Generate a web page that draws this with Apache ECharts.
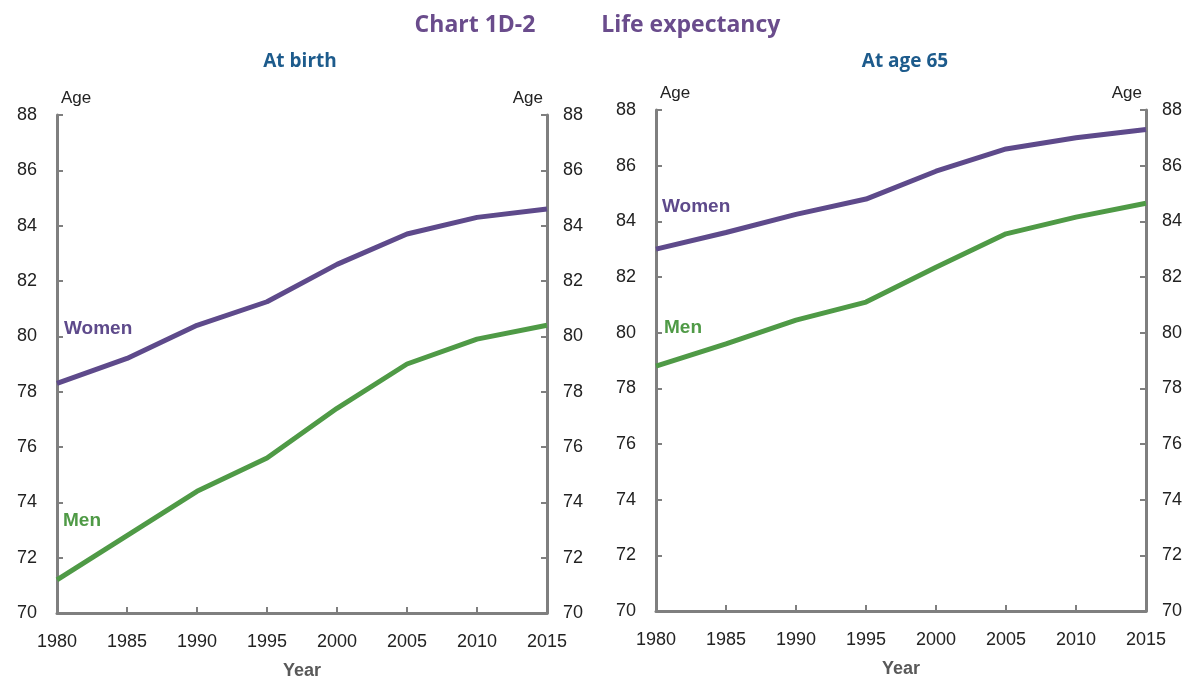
<!DOCTYPE html>
<html>
<head>
<meta charset="utf-8">
<script src="https://cdn.jsdelivr.net/npm/echarts@6/dist/echarts.min.js"></script>
<style>
  html, body { margin: 0; padding: 0; background: #fff; }
  #chart { width: 1195px; height: 679px; }
</style>
</head>
<body>
<div id="chart"></div>
<script>
var years = [1980, 1985, 1990, 1995, 2000, 2005, 2010, 2015]
// at birth
var birthWomen = [78.3, 79.2, 80.4, 81.25, 82.6, 83.7, 84.3, 84.6]
var birthMen = [71.2, 72.8, 74.4, 75.6, 77.4, 79.0, 79.9, 80.4]
// at age 65
var age65Women = [83.0, 83.6, 84.25, 84.8, 85.8, 86.6, 87.0, 87.3]
var age65Men = [78.8, 79.6, 80.45, 81.1, 82.35, 83.55, 84.15, 84.65]

var purple = '#5e4a8b'
var green = '#4f9a46'
var axisGray = '#7f7f7f'
var font = 'Liberation Sans, Arial, sans-serif'

function pairs(vals) {
  return years.map(function (y, i) { return [y, vals[i]] })
}

function xAxisFor(grid) {
  return {
    type: 'value', gridIndex: grid, min: 1980, max: 2015, interval: 5,
    name: 'Year', nameLocation: 'middle', nameGap: 49,
    nameTextStyle: { fontFamily: font, fontSize: 18, fontWeight: 'bold', color: '#595959' },
    axisLine: { lineStyle: { color: axisGray, width: 3 } },
    axisTick: { inside: true, length: 6, lineStyle: { color: axisGray, width: 2 } },
    axisLabel: { fontFamily: font, fontSize: 18, color: '#222', margin: 20,
      formatter: function (v) { return String(v) } },
    splitLine: { show: false }
  }
}

function yAxisFor(grid, pos) {
  var left = pos === 'left'
  return {
    type: 'value', gridIndex: grid, position: pos, min: 70, max: 88, interval: 2,
    name: 'Age', nameLocation: 'end', nameGap: 8,
    nameTextStyle: {
      fontFamily: font, fontSize: 17, color: '#222',
      align: left ? 'left' : 'right',
      padding: left ? [0, 0, 0, 4] : [0, 4, 0, 0]
    },
    axisLine: { show: true, lineStyle: { color: axisGray, width: 3 } },
    axisTick: { show: true, inside: true, length: 6, lineStyle: { color: axisGray, width: 2 } },
    axisLabel: { fontFamily: font, fontSize: 18, color: '#222', margin: left ? 20 : 16 },
    splitLine: { show: false }
  }
}

function line(name, vals, color, grid) {
  return {
    name: name, type: 'line', xAxisIndex: grid, yAxisIndex: grid * 2,
    data: pairs(vals), showSymbol: false, symbol: 'none',
    lineStyle: { color: color, width: 5 }
  }
}

var chart = echarts.init(document.getElementById('chart'))
var option = {
  animation: false,
  title: [
    { text: 'Chart 1D-2           Life expectancy', left: 'center', top: 9,
      textStyle: { fontFamily: 'Open Sans, sans-serif', fontSize: 23, fontWeight: 'bold', color: '#6a4c8c' } },
    { text: 'At birth', left: 295, top: 47, textAlign: 'center',
      textStyle: { fontFamily: 'Open Sans, sans-serif', fontSize: 19, fontWeight: 'bold', color: '#1d5b8c' } },
    { text: 'At age 65', left: 900, top: 47, textAlign: 'center',
      textStyle: { fontFamily: 'Open Sans, sans-serif', fontSize: 19, fontWeight: 'bold', color: '#1d5b8c' } }
  ],
  grid: [
    { left: 57, right: 648, top: 115, bottom: 66, outerBoundsMode: 'none', containLabel: false },
    { left: 656, right: 49, top: 110, bottom: 68, outerBoundsMode: 'none', containLabel: false }
  ],
  xAxis: [xAxisFor(0), xAxisFor(1)],
  yAxis: [yAxisFor(0, 'left'), yAxisFor(0, 'right'), yAxisFor(1, 'left'), yAxisFor(1, 'right')],
  series: [
    line('Women', birthWomen, purple, 0),
    line('Men', birthMen, green, 0),
    line('Women', age65Women, purple, 1),
    line('Men', age65Men, green, 1)
  ],
  graphic: [
    { type: 'text', left: 64, top: 319, style: { text: 'Women', fontFamily: font, fontSize: 19, fontWeight: 'bold', fill: purple } },
    { type: 'text', left: 63, top: 511, style: { text: 'Men', fontFamily: font, fontSize: 19, fontWeight: 'bold', fill: green } },
    { type: 'text', left: 662, top: 197, style: { text: 'Women', fontFamily: font, fontSize: 19, fontWeight: 'bold', fill: purple } },
    { type: 'text', left: 664, top: 318, style: { text: 'Men', fontFamily: font, fontSize: 19, fontWeight: 'bold', fill: green } }
  ]
}
chart.setOption(option)
</script>
</body>
</html>
